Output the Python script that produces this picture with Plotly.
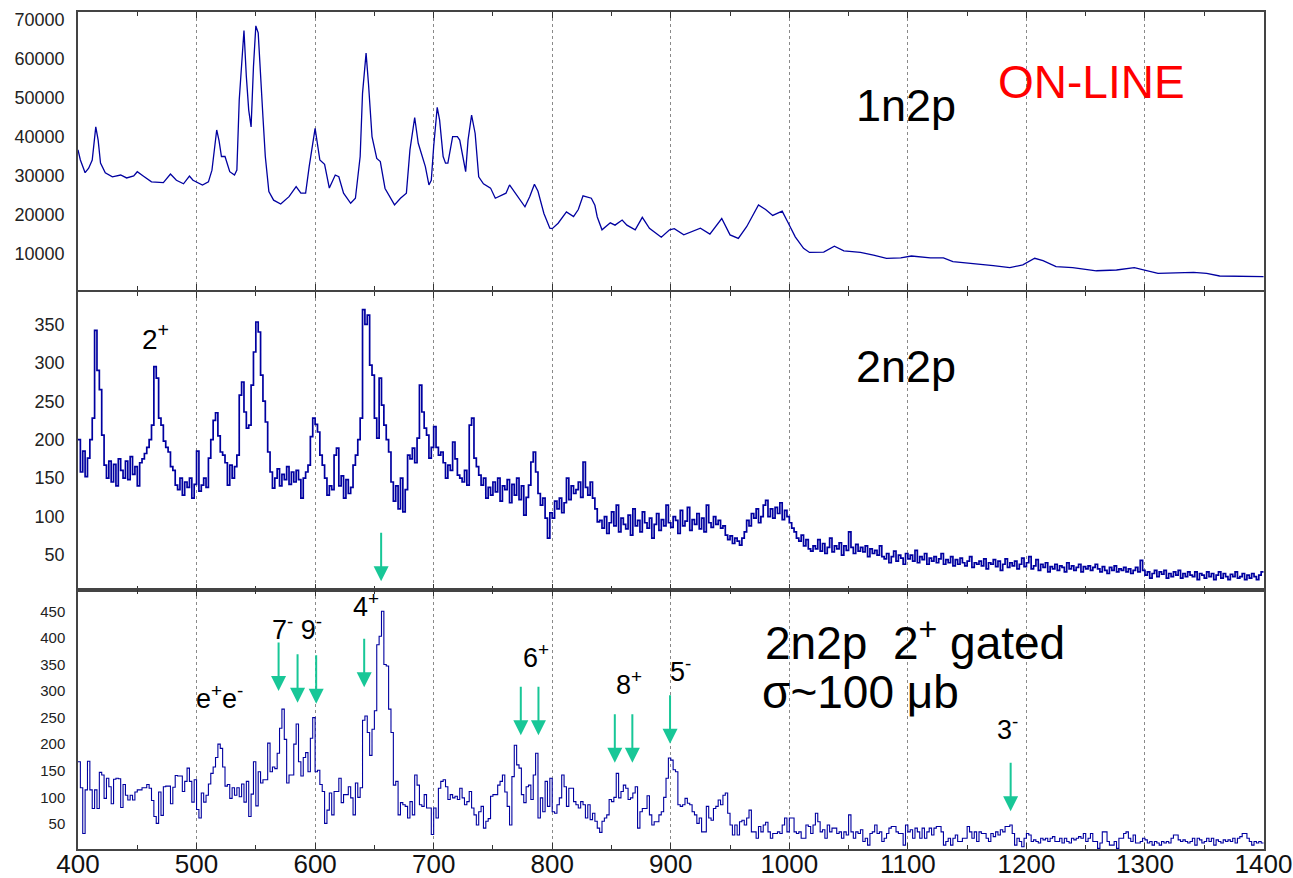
import numpy as np
import plotly.graph_objects as go

# ---------------- data ----------------
E_MIN, E_MAX, BIN = 400, 1400, 2

# Panel 1 : 1n2p (smooth spectrum, energy [keV] / counts)
TOP_E = [400,402,406,409,412,415,417,419,423,429,
         436,441,447,450,455,462,472,478,483,489,
         494,497,505,510,513,517,519,521,524,528,
         532,534,536,539,540,542,544,546,548,550,
         552,556,558,561,565,571,578,584,588,592,
         595,600,602,604,608,612,617,620,624,630,
         634,638,640,643,645,648,652,655,659,663,
         667,672,677,680,684,687,690,693,696,698,
         700,703,705,708,710,712,716,720,722,727,
         729,732,735,738,742,748,752,757,761,764,
         767,773,777,781,785,788,793,798,800,805,
         812,818,822,826,833,836,838,842,849,853,
         859,863,870,876,882,892,899,903,911,925,
         933,943,950,957,964,974,980,986,994,999,
         1005,1012,1017,1029,1038,1046,1060,1071,1082,1094,
         1103,1119,1130,1138,1155,1172,1186,1197,1207,1214,
         1225,1239,1259,1276,1291,1301,1311,1341,1352,1363,
         1383,1400]
TOP_COUNTS = [36700,34100,30850,32000,34100,42600,39200,33300,30800,29800,
              30250,29500,30000,31100,30000,28500,28300,30500,28900,28000,
              30000,28900,27700,28500,31500,41800,39000,35000,35000,31100,
              30250,31500,49500,63200,67300,55500,46900,42600,58000,68500,
              66700,45200,35000,26000,23800,22800,24700,27300,25600,25600,
              32400,42200,37500,34100,33000,26900,30250,29800,25600,23000,
              24300,35000,51200,61500,53800,40100,34500,33700,26800,24700,
              22600,24300,25600,36700,45000,38400,35300,32400,27700,28900,
              37500,47600,44400,35000,33300,33300,40100,40100,39200,31100,
              39200,45600,40900,29800,28000,26900,24300,25100,25600,27700,
              26400,23800,22100,24700,27900,26100,20400,16600,16500,17900,
              20800,19600,21400,24900,24300,22500,19500,16200,18000,17400,
              18700,17400,16200,19400,16600,14300,16200,16500,14900,16600,
              15100,19100,14900,14000,17000,22600,21400,19900,21000,18000,
              14400,11460,10400,10500,12000,10800,10400,9740,8900,9000,
              9490,9000,9000,8030,7600,7000,6500,7200,8900,8300,
              6750,6500,5700,5900,6500,5700,5050,5300,5050,4360,
              4200,4200]

# Panel 2 : 2n2p, 2 keV bins starting at 400 keV (one row = 20 keV)
MID_COUNTS = [
    200,158,185,152,176,200,228,342,290,265,
    206,167,150,172,145,168,140,175,160,150,
    172,148,178,155,165,140,170,175,182,190,
    200,219,295,280,228,219,198,190,184,165,
    160,141,135,150,128,145,138,150,124,142,
    185,133,141,150,138,176,200,225,235,205,
    184,180,170,141,167,150,165,180,258,275,
    236,215,219,271,314,353,340,284,250,223,
    184,158,137,150,162,140,155,148,165,142,
    158,145,160,148,124,150,158,167,204,228,
    220,210,180,167,150,128,140,135,180,189,
    140,153,124,148,130,138,167,180,200,228,
    369,350,362,297,284,228,202,280,245,219,
    200,184,145,120,140,110,150,106,135,180,
    175,189,170,202,271,236,215,206,176,190,
    217,190,180,184,170,150,167,160,197,175,
    154,150,145,160,141,219,228,176,165,154,
    141,150,124,138,128,145,132,150,120,140,
    135,148,118,142,128,150,122,140,102,125,
    141,171,184,158,130,115,124,98,72,105,
    98,120,110,124,105,118,150,122,140,130,
    135,145,125,171,138,128,145,124,110,93,
    95,85,100,78,92,106,88,115,80,98,
    90,84,102,76,110,88,95,80,106,92,
    85,98,72,90,104,82,96,88,115,92,
    86,100,95,78,108,88,94,112,82,96,
    90,104,84,98,80,115,92,86,100,90,
    95,85,88,76,70,75,65,72,68,63,
    72,80,95,88,104,98,110,92,100,115,
    121,100,110,98,112,104,118,96,108,100,
    92,85,80,72,68,76,62,70,58,55,
    62,58,70,55,65,52,60,72,54,62,
    58,66,50,62,56,80,60,52,64,55,
    60,54,62,48,58,52,56,50,62,48,
    45,52,40,48,55,42,50,46,38,52,
    45,50,42,56,40,48,44,52,38,46,
    42,48,40,45,52,38,44,40,48,36,
    44,38,46,40,36,42,48,34,40,38,
    42,36,45,32,40,38,44,35,42,30,
    38,45,34,40,36,42,32,38,46,35,
    40,48,32,36,44,30,38,34,40,28,
    35,32,38,30,36,34,28,40,32,36,
    30,34,38,28,35,32,36,30,34,38,
    32,28,35,30,26,34,30,36,28,32,
    30,34,28,32,26,30,34,28,43,30,
    24,28,20,26,30,22,28,25,30,20,
    26,22,28,24,30,20,26,22,28,24,
    22,28,18,26,24,20,28,22,26,18,
    24,28,20,26,22,18,25,22,28,20,
    22,26,18,24,20,26,22,18,24,28]

# Panel 3 : 2n2p 2+ gated, 2 keV bins starting at 400 keV (one row = 20 keV)
GATED_COUNTS = [
    167,118,32,114,168,114,79,114,79,147,
    142,98,136,120,88,134,136,135,81,124,
    104,95,104,95,110,114,114,118,118,124,
    117,94,64,51,110,66,120,121,121,88,
    119,141,140,140,111,130,155,130,91,133,
    77,61,108,91,104,125,145,157,175,200,
    192,157,121,124,98,118,104,118,101,125,
    91,130,64,106,167,84,148,127,133,133,
    202,148,157,154,183,230,266,209,127,142,
    142,200,238,167,140,175,184,148,211,250,
    148,151,124,111,51,76,108,67,111,111,
    136,90,105,105,120,99,67,127,100,118,
    245,253,222,179,228,263,387,403,450,350,
    347,266,222,123,130,67,90,86,83,61,
    92,67,142,123,86,83,105,80,80,30,
    80,61,117,130,133,120,96,105,99,102,
    96,117,99,86,92,111,80,67,48,73,
    83,42,55,60,102,105,105,123,130,142,
    110,83,48,139,198,161,155,105,90,120,
    123,96,142,183,61,99,73,130,83,136,
    73,70,86,99,142,120,83,117,117,92,
    86,80,92,86,61,86,58,70,55,42,
    34,55,61,67,96,92,100,145,99,111,
    123,117,96,99,108,120,42,73,79,79,
    103,67,48,54,54,67,73,100,136,174,
    170,152,148,86,83,86,98,89,86,73,
    67,51,61,35,35,83,61,57,79,83,
    95,86,104,108,70,48,29,48,29,54,
    57,48,61,76,35,35,23,45,35,48,
    53,35,23,32,32,35,32,48,61,35,
    61,61,35,32,35,23,23,48,45,32,
    48,70,54,35,39,23,48,35,42,42,
    32,35,23,35,29,67,35,23,35,32,
    39,17,23,10,32,35,48,32,35,17,
    23,32,42,45,45,35,32,32,10,48,
    35,39,23,42,35,23,42,23,35,42,
    29,42,45,45,35,10,17,23,10,23,
    29,17,17,23,23,45,35,23,35,17,
    35,32,32,23,17,32,26,35,29,39,
    35,45,45,48,32,10,23,17,7,23,
    32,29,17,20,17,14,23,20,23,17,
    23,26,17,17,23,14,23,17,14,23,
    20,23,26,23,32,17,23,32,17,17,
    4,14,35,35,17,10,10,17,4,23,
    23,32,35,23,17,29,14,14,17,23,
    20,14,17,10,17,14,10,17,14,17,
    14,23,29,29,20,17,20,17,14,17,
    23,10,23,20,14,17,23,17,23,10,
    20,17,14,20,17,20,17,23,14,23,
    26,32,32,23,17,10,17,14,17,14]

# Transition markers (energy keV, arrow tip in counts) in the gated panel
ARROW_E = [569.2, 585.2, 600.9, 641.4, 773.5, 788.4, 852.8, 867.6, 899.4, 1186.7]
ARROW_TIP = [300, 278, 276, 307, 217, 217, 165, 165, 201, 74]
# Gate marker in the 2n2p panel
GATE_E, GATE_TIP = 655.7, 16

# Level labels in the gated panel: (text, energy, counts)
LEVEL_TEXT = ["7<sup>-</sup> 9<sup>-</sup>", "e<sup>+</sup>e<sup>-</sup>", "4<sup>+</sup>",
              "6<sup>+</sup>", "8<sup>+</sup>", "5<sup>-</sup>", "3<sup>-</sup>"]
LEVEL_E = [584.9, 519.0, 643.0, 786.4, 865.0, 908.0, 1184.4]
LEVEL_Y = [419, 289, 462, 365, 315, 340, 231]

Y1_TICKS = [10000, 20000, 30000, 40000, 50000, 60000, 70000]
Y2_TICKS = [50, 100, 150, 200, 250, 300, 350]
Y3_TICKS = [50, 100, 150, 200, 250, 300, 350, 400, 450]
X_TICKS = [400, 500, 600, 700, 800, 900, 1000, 1100, 1200, 1300, 1400]

# ---------------- styling ----------------
BLUE = "#0000A0"
GREEN = "#18C797"
FONT = "Liberation Sans, Arial, Helvetica, sans-serif"


def hist_xy(counts):
    edges = E_MIN + BIN * np.arange(len(counts) + 1)
    return edges, list(counts) + [counts[-1]]


fig = go.Figure()
fig.add_trace(go.Scatter(x=TOP_E, y=TOP_COUNTS, mode="lines",
                         line=dict(color=BLUE, width=1.3), xaxis="x", yaxis="y"))
x2, y2 = hist_xy(MID_COUNTS)
fig.add_trace(go.Scatter(x=x2, y=y2, mode="lines", line_shape="hv",
                         line=dict(color=BLUE, width=1.7), xaxis="x2", yaxis="y2"))
x3, y3 = hist_xy(GATED_COUNTS)
fig.add_trace(go.Scatter(x=x3, y=y3, mode="lines", line_shape="hv",
                         line=dict(color=BLUE, width=1.1), xaxis="x3", yaxis="y3"))

# panel layout: pixel rows -> domains
H_PLOT = 878 - 12 - 29
d1 = [(849 - 290) / H_PLOT, 1.0]
d2 = [(849 - 590) / H_PLOT, (849 - 292) / H_PLOT]
d3 = [0.0, (849 - 590) / H_PLOT]
X_RANGE = [E_MIN, E_MAX + 0.4]


def xax(anchor, labels):
    return dict(anchor=anchor, domain=[0, 1], range=X_RANGE, automargin=False,
                tickvals=X_TICKS, ticks="inside", ticklen=6, tickcolor="#333",
                minor=dict(dtick=50, tick0=0, ticks="inside", ticklen=4, tickcolor="#333", showgrid=False),
                showgrid=True, gridcolor="#8a8a8a", griddash="dot", gridwidth=1,
                showline=True, linecolor="#444", linewidth=1.5, mirror="ticks",
                zeroline=False, showticklabels=labels, tickformat="d",
                ticklabeloverflow="allow", ticklabelstandoff=-9,
                tickfont=dict(family=FONT, size=26, color="#111"))


def yax(anchor, dom, rng, ticks, size):
    return dict(anchor=anchor, domain=dom, range=rng, tickvals=ticks,
                ticktext=[str(t) for t in ticks], automargin=False,
                ticks="", showgrid=False, zeroline=False,
                showline=True, linecolor="#444", linewidth=1.5, mirror=True,
                ticklabelstandoff=8,
                tickfont=dict(family=FONT, size=size, color="#222"))


fig.update_layout(
    width=1293, height=878,
    margin=dict(l=78, r=29, t=12, b=29, autoexpand=False),
    paper_bgcolor="white", plot_bgcolor="white",
    showlegend=False,
    xaxis=xax("y", False), yaxis=yax("x", d1, [770, 72050], Y1_TICKS, 18),
    xaxis2=xax("y2", False), yaxis2=yax("x2", d2, [4.55, 392], Y2_TICKS, 18),
    xaxis3=xax("y3", True), yaxis3=yax("x3", d3, [2.8, 490], Y3_TICKS, 15),
)

ann = []
big = dict(family=FONT, size=45, color="black")
ann.append(dict(x=1098.4, y=48200, xref="x", yref="y", text="1n2p", showarrow=False, font=big))
ann.append(dict(x=1254.5, y=54100, xref="x", yref="y", text="ON-LINE", showarrow=False,
                font=dict(family=FONT, size=46, color="#FF0000")))
ann.append(dict(x=1098.4, y=294.5, xref="x2", yref="y2", text="2n2p", showarrow=False, font=big))
ann.append(dict(x=465, y=333, xref="x2", yref="y2", text="2<sup>+</sup>", showarrow=False,
                font=dict(family=FONT, size=28, color="black")))
ann.append(dict(x=977.5, y=396, xref="x3", yref="y3", xanchor="left",
                text="2n2p\u00a0\u00a02<sup>+</sup> gated", showarrow=False,
                font=dict(family=FONT, size=46, color="black")))
ann.append(dict(x=975, y=298, xref="x3", yref="y3", xanchor="left",
                text="\u03c3~100 \u03bcb", showarrow=False,
                font=dict(family=FONT, size=46, color="black")))
for t, e, v in zip(LEVEL_TEXT, LEVEL_E, LEVEL_Y):
    ann.append(dict(x=e, y=v, xref="x3", yref="y3", text=t, showarrow=False,
                    font=dict(family=FONT, size=27, color="black")))
for e, v in zip(ARROW_E, ARROW_TIP):
    ann.append(dict(x=e, y=v, xref="x3", yref="y3", text="", showarrow=True,
                    ax=0, ay=-50, arrowhead=2, arrowsize=1.5, arrowwidth=2,
                    arrowcolor=GREEN))
ann.append(dict(x=GATE_E, y=GATE_TIP, xref="x2", yref="y2", text="", showarrow=True,
                ax=0, ay=-50, arrowhead=2, arrowsize=1.5, arrowwidth=2, arrowcolor=GREEN))
fig.update_layout(annotations=ann)

fig.write_html("out.html", config={"displayModeBar": False})
